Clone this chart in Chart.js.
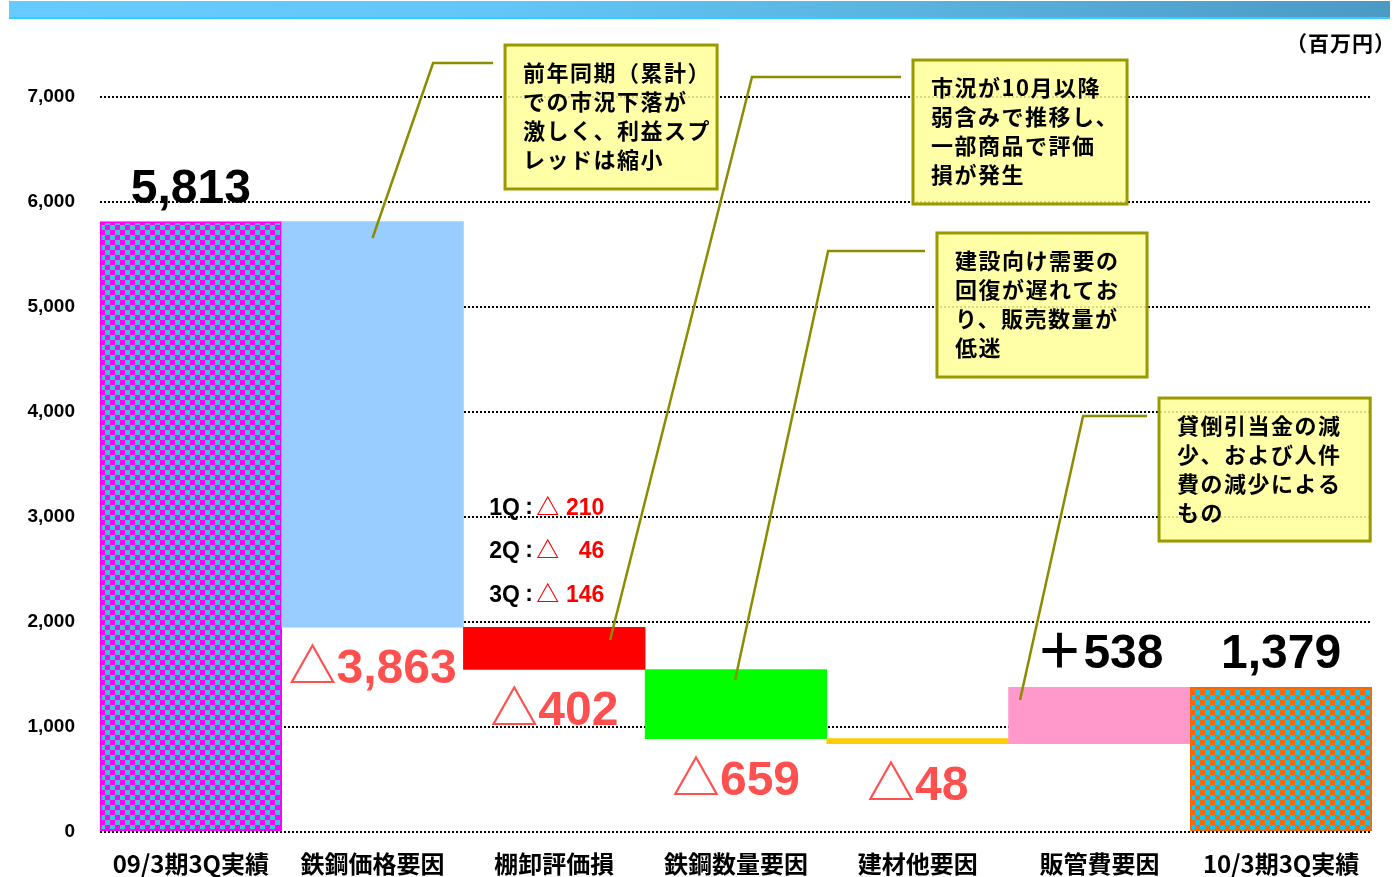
<!DOCTYPE html>
<html><head><meta charset="utf-8">
<script src="https://cdn.jsdelivr.net/npm/chart.js@4"></script>
<style>
html,body{margin:0;padding:0;background:#fff;}
#wrap{position:relative;width:1399px;height:877px;overflow:hidden;}
#c{position:absolute;left:0;top:0;}
#hdr{position:absolute;left:9px;top:1px;width:1381px;height:16px;background:linear-gradient(to right,#66CCFF 0%,#63c6f8 35%,#58b0dc 70%,#4A9AC4 100%);border-bottom:2px solid #33CCFF;}
#unit{position:absolute;left:1286px;top:27px;font:bold 21px "Noto Sans CJK JP",sans-serif;letter-spacing:1px;color:#000;white-space:nowrap;}
</style></head>
<body>
<div id="wrap">
<canvas id="c" width="1399" height="877"></canvas>
<div id="hdr"></div>
<div id="unit">（百万円）</div>
</div>
<script>
const categories = ['09/3期3Q実績','鉄鋼価格要因','棚卸評価損','鉄鋼数量要因','建材他要因','販管費要因','10/3期3Q実績'];
const startValue = 5813;
const changes = [-3863, -402, -659, -48, 538];
const endValue = 1379;
const yTickValues = [0,1000,2000,3000,4000,5000,6000,7000];
const quarterNames = ['1Q','2Q','3Q'];
const quarterValues = [210, 46, 146];
const calloutTexts = [
  ['前年同期（累計）','での市況下落が','激しく、利益スプ','レッドは縮小'],
  ['市況が10月以降','弱含みで推移し、','一部商品で評価','損が発生'],
  ['建設向け需要の','回復が遅れてお','り、販売数量が','低迷'],
  ['貸倒引当金の減','少、および人件','費の減少による','もの']
];
// callout placement in data space: box x range (category index), box y range (value), elbow, anchor
const calloutBoxX = [[1.729,2.896],[3.974,5.152],[4.106,5.262],[5.328,6.490]];
const calloutBoxY = [[7495,6124],[7352,5981],[5705,4333],[4133,2771]];
const calloutElbow = [[1.333,7324],[3.088,7190],[3.507,5533],[4.910,3962]];
const calloutAnchor = [[1.0,5657],[2.307,1829],[2.995,1448],[4.563,1257]];

// waterfall ranges
const ranges = [[0,startValue]];
let cum = startValue;
changes.forEach(d => { ranges.push([Math.min(cum,cum+d), Math.max(cum,cum+d)]); cum += d; });
ranges.push([0,endValue]);
const labelTexts = [startValue.toLocaleString('en-US')]
  .concat(changes.map(d => (d<0?'△':'＋') + Math.abs(d).toLocaleString('en-US')))
  .concat([endValue.toLocaleString('en-US')]);
const labelBelow = [false].concat(changes.map(d => d<0)).concat([false]);

function checker(c1, c2, s){
  const cv = document.createElement('canvas'); cv.width = 2*s; cv.height = 2*s;
  const g = cv.getContext('2d');
  g.fillStyle = c1; g.fillRect(0,0,2*s,2*s);
  g.fillStyle = c2; g.fillRect(s,0,s,s); g.fillRect(0,s,s,s);
  return g.createPattern(cv,'repeat');
}
const ctx = document.getElementById('c').getContext('2d');
const pat1 = checker('#FF00FF','#33CCCC',5);
const pat2 = checker('#FF6600','#00CCFF',5);

const NUMF = '"Liberation Sans", Arial, "Noto Sans CJK JP", sans-serif';
const JPF = '"Noto Sans CJK JP", sans-serif';

const overlay = {
  id:'overlay',
  afterDatasetsDraw(chart){
    const c = chart.ctx;
    const meta = chart.getDatasetMeta(0);
    const xs = chart.scales.x, ys = chart.scales.y;
    c.save();
    // value labels
    meta.data.forEach((el,i)=>{
      const top = Math.min(el.y, el.base), bot = Math.max(el.y, el.base);
      c.font = 'bold 48px ' + NUMF;
      c.textAlign = 'center'; c.textBaseline = 'alphabetic';
      if (labelBelow[i]) { c.fillStyle = '#FF5050'; c.fillText(labelTexts[i], el.x, bot + 56); }
      else { c.fillStyle = '#000'; c.fillText(labelTexts[i], el.x, top - 19); }
    });
    // quarter breakdown above inventory bar
    const qb = meta.data[2];
    const qTop = Math.min(qb.y, qb.base);
    c.font = 'bold 23px ' + NUMF;
    c.textBaseline = 'middle';
    quarterNames.forEach((q,k)=>{
      const yy = qTop - 32 - (quarterNames.length-1-k)*43.5;
      c.textAlign = 'left'; c.fillStyle = '#000';
      c.fillText(q, qb.x - 65, yy);
      c.fillText(':', qb.x - 29, yy - 1);
      c.fillStyle = '#FF0000';
      c.fillText('△', qb.x - 18, yy);
      c.textAlign = 'right';
      c.fillText(String(quarterValues[k]), qb.x + 50, yy);
    });
    // callouts
    calloutTexts.forEach((lines,k)=>{
      const bx1 = xs.getPixelForValue(calloutBoxX[k][0]), bx2 = xs.getPixelForValue(calloutBoxX[k][1]);
      const by1 = ys.getPixelForValue(calloutBoxY[k][0]), by2 = ys.getPixelForValue(calloutBoxY[k][1]);
      const ex = xs.getPixelForValue(calloutElbow[k][0]), ey = ys.getPixelForValue(calloutElbow[k][1]);
      const ax = xs.getPixelForValue(calloutAnchor[k][0]), ay = ys.getPixelForValue(calloutAnchor[k][1]);
      c.strokeStyle = '#8C8C00'; c.lineWidth = 2.5;
      c.beginPath(); c.moveTo(bx1 - 12, ey); c.lineTo(ex, ey); c.lineTo(ax, ay); c.stroke();
      c.fillStyle = 'rgba(255,255,153,0.85)';
      c.fillRect(bx1, by1, bx2-bx1, by2-by1);
      c.strokeStyle = '#999900'; c.lineWidth = 3;
      c.strokeRect(bx1, by1, bx2-bx1, by2-by1);
      c.fillStyle = '#000'; c.font = 'bold 22px ' + JPF;
      c.letterSpacing = '1.5px';
      c.textAlign = 'left'; c.textBaseline = 'middle';
      lines.forEach((t,j)=> c.fillText(t, bx1 + 18, by1 + 28 + j*29));
      c.letterSpacing = '0px';
    });
    c.restore();
  }
};

new Chart(ctx, {
  type:'bar',
  data:{
    labels: categories,
    datasets:[{
      data: ranges,
      backgroundColor:[pat1,'#99CCFF','#FF0000','#00FF00','#FFCC00','#FF99CC',pat2],
      borderColor:['#FF00FF','rgba(0,0,0,0)','rgba(0,0,0,0)','rgba(0,0,0,0)','rgba(0,0,0,0)','rgba(0,0,0,0)','#FF6600'],
      borderWidth:[2,0,0,0,0,0,2],
      borderSkipped:false,
      barPercentage:1, categoryPercentage:1
    }]
  },
  options:{
    responsive:false, animation:false,
    layout:{padding:{top:97,right:27,left:0,bottom:0}},
    plugins:{legend:{display:false}, tooltip:{enabled:false}},
    scales:{
      x:{
        grid:{display:false, drawTicks:false}, border:{display:false},
        ticks:{color:'#000', font:{family:JPF, size:24, weight:'bold'}, padding:17, maxRotation:0, autoSkip:false},
        afterFit(s){ s.height = 45; }
      },
      y:{
        min:0, max:7000,
        afterBuildTicks(s){ s.ticks = yTickValues.map(v=>({value:v})); },
        grid:{color:'#000', lineWidth:2, drawTicks:false},
        border:{display:false, dash:[2,2]},
        ticks:{color:'#000', font:{family:NUMF, size:19, weight:'bold'}, padding:25,
               callback:v=>v.toLocaleString('en-US')},
        afterFit(s){ s.width = 100; }
      }
    }
  },
  plugins:[overlay]
});
</script>
</body></html>
